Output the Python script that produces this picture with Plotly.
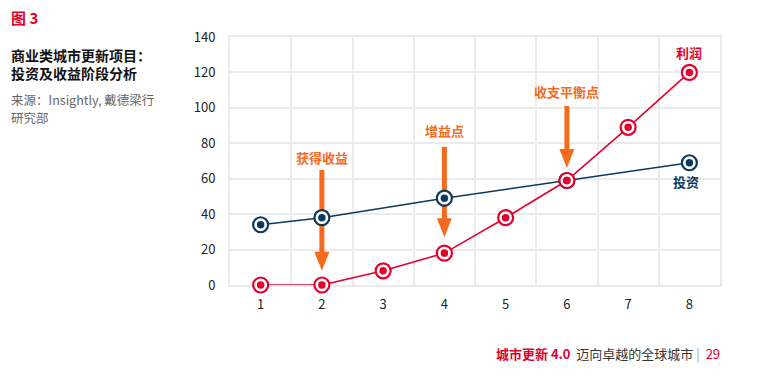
import plotly.graph_objects as go

# ---- data ----
stages = [1, 2, 3, 4, 5, 6, 7, 8]
profit = [0, 0, 8, 18, 38, 59, 89, 120]
invest_x = [1, 2, 4, 6, 8]
invest = [34, 38, 49, 59, 69]
y_ticks = [0, 20, 40, 60, 80, 100, 120, 140]

# annotation points: (x, text_y, arrow_tail_y, arrow_tip_y, label)
marks = [
    (2, 72, 65, 8, "获得收益"),
    (4, 87, 78, 27, "增益点"),
    (6, 109, 101, 66, "收支平衡点"),
]

RED = "#e4002b"
NAVY = "#0b3a5e"
ORANGE = "#f56a1c"
GRID = "#ebebeb"
FONT = "Noto Sans CJK SC"

OFF = 8  # page body margin
W, H = 767 - OFF, 378 - OFF
L, R, T, B = 230 - OFF, 47, 37 - OFF, 93
PW = W - L - R
PH = H - T - B
Y_MAX = 140
PX_PER_UNIT = PH / Y_MAX

HEAD_LEN = 19   # px
HEAD_HALF = 7.5 # px
SHAFT_W = 5     # px

def px(x):
    return (x - OFF - L) / PW

def py(y):
    return (H - B - (y - OFF)) / PH

fig = go.Figure()

# lines + outer rings
fig.add_trace(go.Scatter(x=invest_x, y=invest, mode="lines+markers",
                         line=dict(color=NAVY, width=1.6),
                         marker=dict(size=15, color="white", line=dict(color=NAVY, width=2.2)),
                         cliponaxis=False, hoverinfo="skip", showlegend=False))
fig.add_trace(go.Scatter(x=stages, y=profit, mode="lines+markers",
                         line=dict(color=RED, width=1.6),
                         marker=dict(size=15, color="white", line=dict(color=RED, width=2.2)),
                         cliponaxis=False, hoverinfo="skip", showlegend=False))
# inner dots
fig.add_trace(go.Scatter(x=invest_x, y=invest, mode="markers",
                         marker=dict(size=7.5, color=NAVY, line=dict(width=0)),
                         cliponaxis=False, hoverinfo="skip", showlegend=False))
fig.add_trace(go.Scatter(x=stages, y=profit, mode="markers",
                         marker=dict(size=7.5, color=RED, line=dict(width=0)),
                         cliponaxis=False, hoverinfo="skip", showlegend=False))

annotations = []
shapes = []
for x, ty, tail, tip, label in marks:
    annotations.append(dict(x=x, y=ty, xref="x", yref="y", text=f"<b>{label}</b>",
                            showarrow=False, font=dict(family=FONT, size=13, color=ORANGE)))
    shaft_end = tip + (HEAD_LEN - 1) / PX_PER_UNIT
    shapes.append(dict(type="line", xref="x", yref="y", x0=x, x1=x, y0=tail, y1=shaft_end,
                       line=dict(color=ORANGE, width=SHAFT_W), layer="between"))
    shapes.append(dict(type="path", xref="x", yref="y",
                       xsizemode="pixel", ysizemode="pixel", xanchor=x, yanchor=tip,
                       path=f"M {-HEAD_HALF},{HEAD_LEN} L {HEAD_HALF},{HEAD_LEN} L 0,0 Z",
                       fillcolor=ORANGE, line=dict(width=0), layer="between"))

annotations.append(dict(x=8, y=131, xref="x", yref="y", text="<b>利润</b>", showarrow=False,
                        font=dict(family=FONT, size=13, color=RED)))
annotations.append(dict(x=7.95, y=58.5, xref="x", yref="y", text="<b>投资</b>", showarrow=False,
                        font=dict(family=FONT, size=13, color=NAVY)))

# left title block
annotations += [
    dict(x=px(9), y=py(18), xref="paper", yref="paper", xanchor="left", yanchor="middle",
         text="<b>图 3</b>", showarrow=False, font=dict(family=FONT, size=15, color=RED)),
    dict(x=px(9), y=py(64), xref="paper", yref="paper", xanchor="left", yanchor="middle", align="left",
         text="<b>商业类城市更新项目：</b><br><b>投资及收益阶段分析</b>", showarrow=False,
         font=dict(family=FONT, size=14, color="#111")),
    dict(x=px(9), y=py(99.5), xref="paper", yref="paper", xanchor="left", yanchor="middle",
         text="来源：Insightly, 戴德梁行", showarrow=False,
         font=dict(family=FONT, size=12.5, color="#666")),
    dict(x=px(9), y=py(117.5), xref="paper", yref="paper", xanchor="left", yanchor="middle",
         text="研究部", showarrow=False,
         font=dict(family=FONT, size=12.5, color="#666")),
    dict(x=px(722), y=py(353), xref="paper", yref="paper", xanchor="right", yanchor="middle",
         text="<span style='color:#e4002b'><b>城市更新 4.0</b></span>  迈向卓越的全球城市 <span style='color:#999'>|</span>  <span style='color:#e4002b'>29</span>",
         showarrow=False, font=dict(family=FONT, size=13, color="#333")),
]

fig.update_layout(
    width=W, height=H,
    margin=dict(l=L, r=R, t=T, b=B),
    paper_bgcolor="white", plot_bgcolor="white",
    font=dict(family=FONT, size=13, color="#222"),
    annotations=annotations,
    shapes=shapes,
    xaxis=dict(range=[0.5, 8.5], tickvals=stages, ticktext=[str(s) for s in stages],
               showgrid=False, zeroline=False, ticks="", ticklabelstandoff=6,
               showline=True, linecolor=GRID, linewidth=2, mirror=True, layer="below traces",
               minor=dict(tick0=0.5, dtick=1, showgrid=True, gridcolor=GRID, gridwidth=2),
               tickfont=dict(family=FONT, size=13, color="#222")),
    yaxis=dict(range=[0, Y_MAX], tickvals=y_ticks, showgrid=True, gridcolor=GRID, gridwidth=2,
               zeroline=False, ticks="", ticklabelstandoff=10,
               showline=True, linecolor=GRID, linewidth=2, mirror=True, layer="below traces",
               tickfont=dict(family=FONT, size=13, color="#222")),
)

fig.write_html("out.html")
